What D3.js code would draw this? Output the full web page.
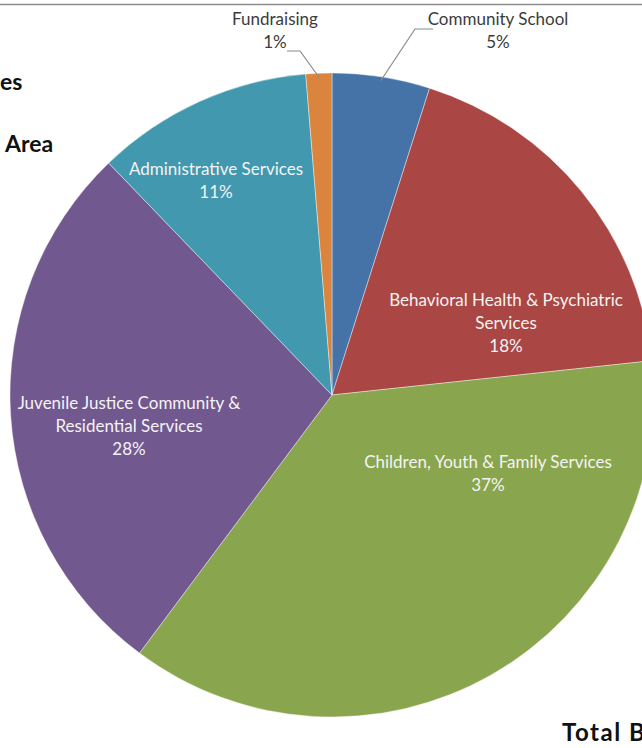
<!DOCTYPE html>
<html>
<head>
<meta charset="utf-8">
<script src="https://cdn.jsdelivr.net/npm/d3@7"></script>
<style>
  html, body { margin: 0; padding: 0; background: #fff; overflow: hidden; }
  svg { display: block; }
</style>
</head>
<body>
<svg id="chart" width="642" height="748"></svg>
<script>
// ---- data ----
const categories = [
  "Community School",
  "Behavioral Health & Psychiatric Services",
  "Children, Youth & Family Services",
  "Juvenile Justice Community & Residential Services",
  "Administrative Services",
  "Fundraising"
];
const shares = [4.9, 18.4, 36.9, 27.6, 10.9, 1.3];
const labelLines = [
  ["Community School"],
  ["Behavioral Health & Psychiatric", "Services"],
  ["Children, Youth & Family Services"],
  ["Juvenile Justice Community &", "Residential Services"],
  ["Administrative Services"],
  ["Fundraising"]
];
const titleFragments = ["es", "Area", "Total B"];

// ---- layout / style ----
const colors = ["#4572A7", "#AA4643", "#89A54E", "#71588F", "#4198AF", "#DB843D"];
const W = 642, H = 748;
const cx = 332, cy = 395, R = 322;
const labelLayout = [
  {x: 498, y: 25, inside: false, leader: [[433, 29], [415, 29]]},
  {x: 506, y: 306, inside: true},
  {x: 488, y: 468, inside: true},
  {x: 129, y: 409, inside: true},
  {x: 216, y: 175, inside: true},
  {x: 275, y: 25, inside: false, leader: [[287, 51], [300, 51]]}
];
const lineH = 23;
const fontFam = "Lato, 'Open Sans', sans-serif";

const svg = d3.select("#chart");

svg.append("line")
  .attr("x1", 0).attr("x2", W).attr("y1", 4.5).attr("y2", 4.5)
  .attr("stroke", "#8c8c8c").attr("stroke-width", 1.5);

const pie = d3.pie().sort(null).value(d => d)(shares);
const arc = d3.arc().innerRadius(0).outerRadius(R);

const g = svg.append("g").attr("transform", `translate(${cx},${cy})`);
g.selectAll("path.slice")
  .data(pie)
  .join("path")
  .attr("class", "slice")
  .attr("d", arc)
  .attr("fill", (d, i) => colors[i])
  .attr("stroke", "#ffffff")
  .attr("stroke-width", 0.4);

const edgeArc = d3.arc().innerRadius(R - 4).outerRadius(R - 4);
pie.forEach((d, i) => {
  const L = labelLayout[i];
  if (!L.leader) return;
  const c = edgeArc.centroid(d);
  const pts = L.leader.concat([[cx + c[0], cy + c[1]]]);
  svg.append("path")
    .attr("d", d3.line()(pts))
    .attr("fill", "none")
    .attr("stroke", "#8a8a8a")
    .attr("stroke-width", 1.2);
});

pie.forEach((d, i) => {
  const L = labelLayout[i];
  const lines = labelLines[i].concat([Math.round(shares[i]) + "%"]);
  const t = svg.append("text")
    .attr("text-anchor", "middle")
    .attr("font-family", fontFam)
    .attr("font-size", 17)
    .attr("fill", L.inside ? "#f4f4f4" : "#3c3c3c");
  lines.forEach((s, k) => {
    t.append("tspan").attr("x", L.x).attr("y", L.y + k * lineH).text(s);
  });
});

const titleStyle = sel => sel.attr("font-family", fontFam).attr("font-weight", "bold")
  .attr("font-size", 23).attr("fill", "#111");
svg.append("text").attr("x", 0).attr("y", 90).text(titleFragments[0]).call(titleStyle);
svg.append("text").attr("x", 5).attr("y", 152).text(titleFragments[1]).call(titleStyle);
svg.append("text").attr("x", 562).attr("y", 741).text(titleFragments[2]).call(titleStyle)
  .attr("font-size", 24).attr("letter-spacing", 1.5);
</script>
</body>
</html>
